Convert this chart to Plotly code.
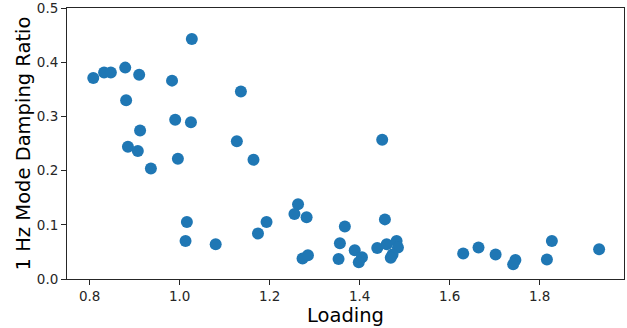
import plotly.graph_objects as go

loading = [
    0.808, 0.832, 0.847, 0.879, 0.910, 0.983, 1.027, 1.136, 0.881, 0.990,
    1.025, 0.912, 1.127, 0.885, 0.907, 0.936, 0.996, 1.164, 1.016, 1.013,
    1.080, 1.174, 1.193, 1.450, 1.263, 1.255, 1.282, 1.367, 1.456, 1.356,
    1.389, 1.439, 1.460, 1.482, 1.485, 1.473, 1.469, 1.273, 1.285, 1.353,
    1.405, 1.398, 1.630, 1.664, 1.702, 1.746, 1.741, 1.816, 1.827, 1.932,
]
damping = [
    0.371, 0.381, 0.381, 0.390, 0.377, 0.366, 0.443, 0.346, 0.330, 0.294,
    0.289, 0.274, 0.254, 0.244, 0.236, 0.204, 0.222, 0.220, 0.105, 0.070,
    0.064, 0.084, 0.105, 0.257, 0.138, 0.120, 0.114, 0.097, 0.110, 0.066,
    0.053, 0.057, 0.064, 0.070, 0.058, 0.045, 0.039, 0.038, 0.044, 0.037,
    0.040, 0.031, 0.047, 0.058, 0.045, 0.035, 0.027, 0.036, 0.070, 0.055,
]

x_ticks = [0.8, 1.0, 1.2, 1.4, 1.6, 1.8]
y_ticks = [0.0, 0.1, 0.2, 0.3, 0.4, 0.5]

fig = go.Figure(
    go.Scatter(
        x=loading, y=damping, mode="markers",
        marker=dict(size=12, color="#1f77b4", line=dict(width=0)),
        showlegend=False,
    )
)

axis_common = dict(
    showgrid=False, zeroline=False, showline=True, mirror=True,
    linecolor="#262626", linewidth=1, ticks="outside", ticklen=5,
    tickcolor="#262626", tickwidth=1, ticklabeloverflow="allow",
    tickfont=dict(family="DejaVu Sans", size=13.5, color="#262626"),
)

fig.update_xaxes(
    range=[0.7496, 1.9873], tickvals=x_ticks, tickformat=".1f",
    title=dict(text="Loading", font=dict(family="DejaVu Sans", size=19.5, color="#000000"), standoff=2),
    **axis_common,
)
fig.update_yaxes(
    range=[0, 0.5], tickvals=y_ticks, tickformat=".1f",
    title=dict(text="1 Hz Mode Damping Ratio", font=dict(family="DejaVu Sans", size=19.5, color="#000000"), standoff=0),
    **axis_common,
)

fig.update_layout(
    width=627, height=328,
    margin=dict(l=67, r=3, t=8, b=49, autoexpand=False),
    plot_bgcolor="white", paper_bgcolor="white",
)

fig.write_html(
    "out.html",
    config={"displayModeBar": False},
    post_script="document.body.style.margin='0';document.body.style.padding='0';document.body.style.overflow='hidden';",
)
